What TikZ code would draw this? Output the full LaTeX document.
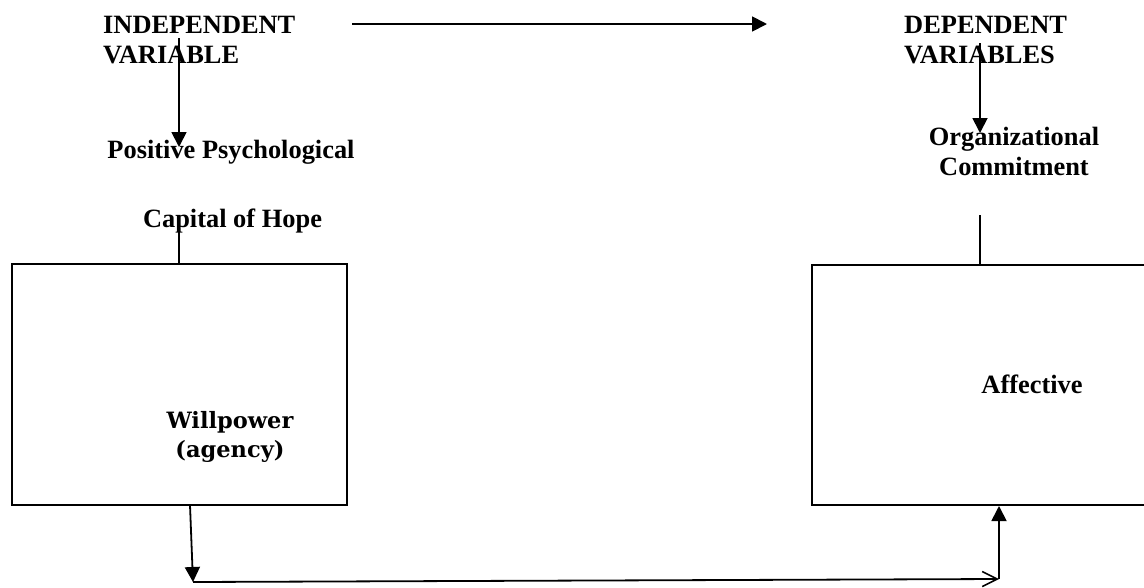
\documentclass[tikz,border=0pt]{standalone}
\usepackage{fontspec}
\setmainfont{Liberation Serif}
\newfontfamily\calfont{DejaVu Serif}
\usetikzlibrary{arrows.meta}
\begin{document}
\begin{tikzpicture}[x=1pt,y=-1pt,
  lbl/.style={inner sep=0,font=\fontsize{26.4}{30}\selectfont\bfseries},
  boxn/.style={draw,line width=2pt,inner sep=0},
  conn/.style={line width=1.8pt},
  tri/.style={-{Triangle[length=15pt,width=15pt]}},
  barb/.style={-{Straight Barb[length=15pt,width=15pt,line width=1.6pt]}}]
\useasboundingbox (0,0) rectangle (1144,587);
% labels
\node[lbl,anchor=base west,text width=220pt,align=left] (iv) at (103,33) {INDEPENDENT\\VARIABLE};
\node[lbl,anchor=base west,text width=220pt,align=left] (dv) at (904,33) {DEPENDENT\\VARIABLES};
\node[lbl,anchor=base] (pp) at (231,158) {Positive Psychological};
\node[lbl,anchor=base] (coh) at (232.5,227) {Capital of Hope};
\node[lbl,anchor=base,text width=220pt,align=center] (oc) at (1014,145) {Organizational\\Commitment};
% boxes
\node[boxn,minimum width=335pt,minimum height=241pt] (wb) at (179.5,384.5) {};
\node[boxn,minimum width=336pt,minimum height=240pt] (ab) at (980,385) {};
\node[inner sep=0,anchor=base,text width=160pt,align=center,font=\calfont\bfseries\fontsize{22.5}{29.5}\selectfont] (wp) at (230,428) {Willpower\\(agency)};
\node[lbl,anchor=base] (af) at (1032,393) {Affective};
% connector coordinates
\coordinate (t1) at (352,24);
\coordinate (t2) at (767,24);
\coordinate (l1) at (179,38);
\coordinate (l2) at (179,147);
\coordinate (l3) at (179,230);
\coordinate (r1) at (980,43);
\coordinate (r2) at (980,133);
\coordinate (r3) at (980,215);
\coordinate (b1) at (190,505);
\coordinate (b2) at (193,582);
\coordinate (b3) at (999,579);
\coordinate (b4) at (999,506);
% connectors
\draw[conn,tri] (t1) -- (t2);
\draw[conn,tri] (l1) -- (l2);
\draw[conn] (l3) -- (wb.north -| l3);
\draw[conn,tri] (r1) -- (r2);
\draw[conn] (r3) -- (ab.north -| r3);
\draw[conn,tri] (b1) -- (b2);
\draw[conn,barb] (b2) -- (b3);
\draw[conn,tri] (b3) -- (b4);
\end{tikzpicture}
\end{document}
